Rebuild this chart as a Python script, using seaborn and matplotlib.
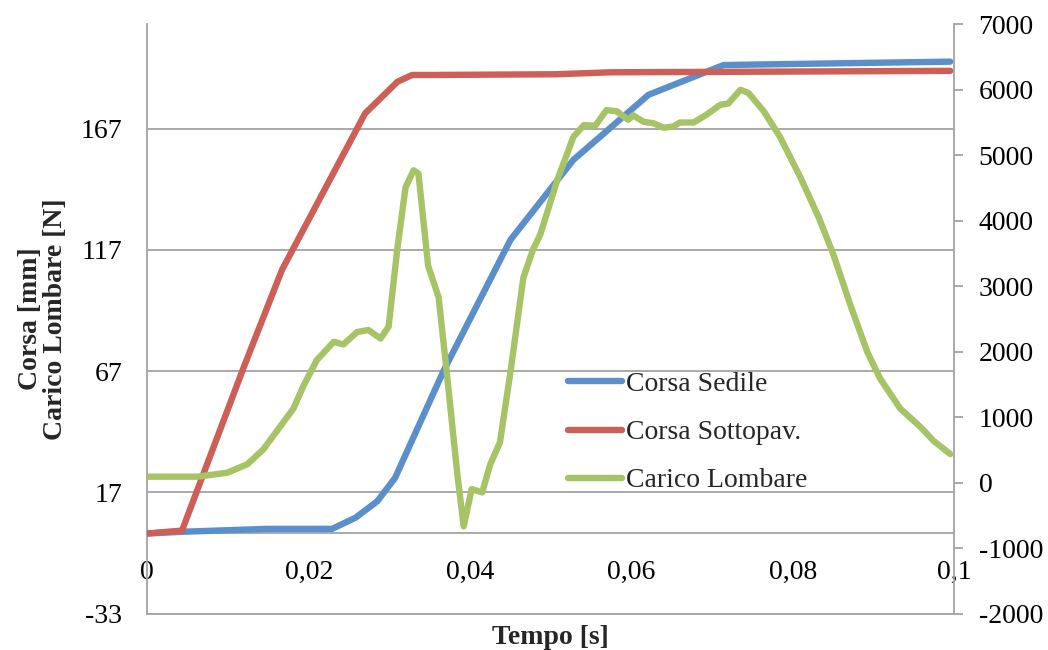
import matplotlib
matplotlib.use("Agg")
import matplotlib.pyplot as plt
import seaborn as sns
import pandas as pd

# ---------------- data ----------------
t_sedile = [0.0, 0.0043, 0.0148, 0.0229, 0.0258, 0.0285, 0.0307, 0.0367,
            0.0450, 0.0528, 0.0621, 0.0714, 0.0995]
corsa_sedile = [0.0, 0.7, 1.9, 1.9, 6.5, 13.3, 22.9, 67.0,
                121.1, 154.1, 180.9, 193.2, 194.6]

t_sottopav = [0.0, 0.0043, 0.0120, 0.0167, 0.0270, 0.0310, 0.0328, 0.0353,
              0.0507, 0.0574, 0.0995]
corsa_sottopav = [0.0, 1.2, 69.0, 108.8, 173.3, 186.3, 189.1, 189.1,
                  189.4, 190.2, 190.8]

t_lombare = [0.0, 0.0062, 0.0099, 0.0124, 0.0144, 0.0181, 0.0194, 0.0210,
             0.0231, 0.0243, 0.0260, 0.0274, 0.0289, 0.0299, 0.0310, 0.0320,
             0.0330, 0.0336, 0.0348, 0.0361, 0.0371, 0.0384, 0.0392, 0.0402,
             0.0415, 0.0425, 0.0437, 0.0450, 0.0466, 0.0478, 0.0487, 0.0508,
             0.0528, 0.0541, 0.0555, 0.0569, 0.0582, 0.0596, 0.0602, 0.0615,
             0.0627, 0.0640, 0.0652, 0.0660, 0.0677, 0.0693, 0.0710, 0.0720,
             0.0735, 0.0745, 0.0764, 0.0784, 0.0809, 0.0832, 0.0850, 0.0871,
             0.0892, 0.0908, 0.0933, 0.0958, 0.0974, 0.0995]
carico_lombare = [90, 90, 150, 280, 510, 1130, 1490, 1870,
                  2150, 2110, 2300, 2330, 2200, 2380, 3590, 4510,
                  4770, 4720, 3310, 2830, 1690, 150, -670, -100,
                  -150, 280, 615, 1690, 3130, 3560, 3790, 4620,
                  5280, 5460, 5450, 5690, 5670, 5540, 5610, 5510,
                  5490, 5420, 5440, 5500, 5500, 5620, 5770, 5790,
                  6000, 5950, 5670, 5280, 4670, 4050, 3490, 2720,
                  2000, 1590, 1130, 850, 640, 435]

series_names = ["Corsa Sedile", "Corsa Sottopav.", "Carico Lombare"]
x_ticks = [0, 0.02, 0.04, 0.06, 0.08, 0.1]
x_tick_labels = ["0", "0,02", "0,04", "0,06", "0,08", "0,1"]
left_ticks = [-33, 17, 67, 117, 167]
right_ticks = [-2000, -1000, 0, 1000, 2000, 3000, 4000, 5000, 6000, 7000]

# ---------------- style ----------------
sns.set_style("white")
plt.rcParams["font.family"] = ["Liberation Serif", "DejaVu Serif"]
plt.rcParams["axes.unicode_minus"] = False

FS = 20
GRAY = "#A3A3A3"
C_BLUE = "#5A8FCB"
C_RED = "#CD5F57"
C_GREEN = "#A6C466"
LW = 4.6

W, H = 1048, 650
fig = plt.figure(figsize=(W / 100, H / 100), dpi=100)
x0, x1, ytop, ybot = 147.3, 954.3, 24.3, 613.5
ax = fig.add_axes([x0 / W, 1 - ybot / H, (x1 - x0) / W, (ybot - ytop) / H])
ax2 = ax.twinx()

df_sed = pd.DataFrame({"t": t_sedile, "v": corsa_sedile})
df_sot = pd.DataFrame({"t": t_sottopav, "v": corsa_sottopav})
df_lom = pd.DataFrame({"t": t_lombare, "v": carico_lombare})

sns.lineplot(data=df_sed, x="t", y="v", ax=ax, color=C_BLUE, lw=LW,
             solid_capstyle="round", solid_joinstyle="round",
             legend=False, zorder=3)
h_sed = ax.lines[-1]
sns.lineplot(data=df_sot, x="t", y="v", ax=ax, color=C_RED, lw=LW,
             solid_capstyle="round", solid_joinstyle="round",
             legend=False, zorder=3)
h_sot = ax.lines[-1]
sns.lineplot(data=df_lom, x="t", y="v", ax=ax2, color=C_GREEN, lw=LW,
             solid_capstyle="round", solid_joinstyle="round",
             legend=False, zorder=3)
h_lom = ax2.lines[-1]

# ---------------- axes ----------------
ax.set_xlim(0, 0.1)
ax.set_ylim(-33, 210)
ax2.set_ylim(-2000, 7000)

ax.set_xticks(x_ticks, x_tick_labels)
ax.set_yticks(left_ticks)
ax2.set_yticks(right_ticks)

ax.yaxis.grid(True, color=GRAY, lw=1.3)
ax.xaxis.grid(False)
ax2.grid(False)
ax.axhline(-33, color=GRAY, lw=1.3, clip_on=False, zorder=1)

for s in ["top", "right"]:
    ax.spines[s].set_visible(False)
for s in ["top", "left", "bottom"]:
    ax2.spines[s].set_visible(False)
ax.spines["bottom"].set_position(("data", 0))
for sp in [ax.spines["bottom"], ax.spines["left"], ax2.spines["right"]]:
    sp.set_color(GRAY)
    sp.set_linewidth(1.3)

ax.tick_params(axis="x", length=0, pad=19, labelsize=FS, colors="black")
ax.tick_params(axis="y", length=0, pad=18, labelsize=FS, colors="black")
ax2.tick_params(axis="y", length=6.5, width=1.3, color=GRAY, pad=11,
                labelsize=FS, labelcolor="black")

ax.set_xlabel("Tempo [s]", fontsize=FS, fontweight="bold")
ax.xaxis.set_label_coords(0.5, -0.019)
ax.set_ylabel("Corsa [mm]\nCarico Lombare [N]", fontsize=FS,
              fontweight="bold", linespacing=1.0)
ax.yaxis.set_label_coords(-0.098, 0.5)
ax2.set_ylabel("")

fig.legend([h_sed, h_sot, h_lom], series_names, loc="center left",
           bbox_to_anchor=(568 / W, 1 - 432.5 / H), frameon=False,
           fontsize=FS, handlelength=1.95, handletextpad=0.15,
           labelspacing=0.82, borderpad=0, borderaxespad=0)

fig.savefig("out.png", dpi=100, facecolor="white")
